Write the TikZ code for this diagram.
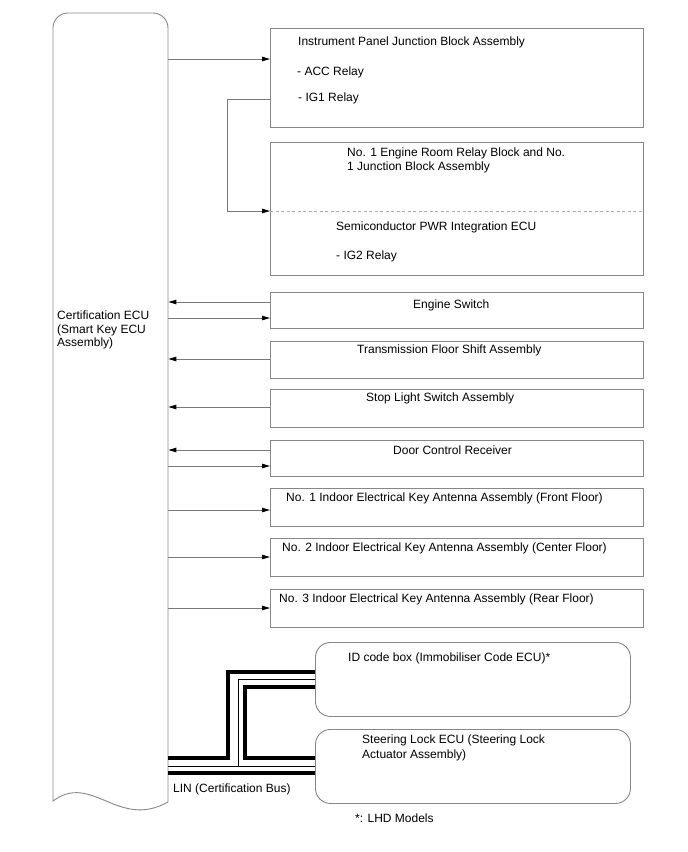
\documentclass[tikz,border=0pt]{standalone}
\usepackage{fontspec}
\setmainfont{Liberation Sans}
\usetikzlibrary{
  arrows.meta,  % Triangle arrow tips
  positioning   % relative placement
}
\definecolor{wiregray}{RGB}{120,120,120}
\definecolor{boxgray}{RGB}{135,135,135}
\tikzset{
  unit box/.style={
    draw=boxgray,
    line width=0.9pt,
    inner sep=0pt,
    anchor=north west
  },
  lin box/.style={
    unit box,
    rounded corners=15pt
  },
  lbl/.style={
    anchor=west,
    inner sep=0pt,
    align=left,
    font=\fontsize{12}{14}\selectfont
  },
  sig/.style={
    draw=wiregray,
    line width=0.9pt
  },
  to unit/.style={
    sig,
    -{Triangle[length=8pt,width=4.5pt,black]}
  },
  bus thick/.style={
    draw=black,
    line width=4pt
  },
  bus thin/.style={
    draw=black,
    line width=1pt
  }
}

\begin{document}
\begin{tikzpicture}[x=1pt, y=-1pt]
    \useasboundingbox (0,0) rectangle (688,852);

    % 1. Certification ECU (tall block, wavy bottom)
    \node[inner sep=0pt, minimum width=115pt, minimum height=789pt,
          anchor=north west] (ecu) at (53,13) {};
    \draw[sig, draw=boxgray] (53,801) -- (53,28)
      arc[start angle=180, end angle=90, radius=15pt] -- (153,13)
      arc[start angle=90, end angle=0, radius=15pt] -- (168,802)
      .. controls (118,830) and (92,772) .. (53,801) -- cycle;
    \node[lbl, font=\fontsize{12}{13.5}\selectfont] (ecu-t) at (57,330)
      {Certification ECU\\(Smart Key ECU\\Assembly)};

    % 2. units on the right
    \node[unit box, minimum width=373pt, minimum height=99pt]  (ipjb) at (270,28)  {};
    \node[unit box, minimum width=373pt, minimum height=133pt] (erb)  at (270,142) {};
    \node[unit box, minimum width=373pt, minimum height=36pt]  (esw)  at (270,292) {};
    \node[unit box, minimum width=373pt, minimum height=37pt]  (tfs)  at (270,341) {};
    \node[unit box, minimum width=373pt, minimum height=38pt]  (sls)  at (270,389) {};
    \node[unit box, minimum width=373pt, minimum height=36pt]  (dcr)  at (270,440) {};
    \node[unit box, minimum width=373pt, minimum height=38pt]  (ant1) at (270,488) {};
    \node[unit box, minimum width=373pt, minimum height=38pt]  (ant2) at (270,538) {};
    \node[unit box, minimum width=373pt, minimum height=38pt]  (ant3) at (270,589) {};
    \node[lin box,  minimum width=315pt, minimum height=74pt]  (idb)  at (315,642) {};
    \node[lin box,  minimum width=315pt, minimum height=74pt]  (slk)  at (315,729) {};

    % divider inside the relay block
    \draw[sig, draw=gray!65, dash pattern=on 3pt off 2.5pt] (erb.west |- 0,211) -- (erb.east |- 0,211);

    % 3. unit texts
    \node[lbl] (ipjb-t)  at (298,42)  {Instrument Panel Junction Block Assembly};
    \node[lbl] (ipjb-a)  at (297,72)  {- ACC Relay};
    \node[lbl] (ipjb-b)  at (298,98)  {- IG1 Relay};
    \node[lbl] (erb-t)   at (347,160) {No. 1 Engine Room Relay Block and No.\\1 Junction Block Assembly};
    \node[lbl] (spi-t)   at (336,227) {Semiconductor PWR Integration ECU};
    \node[lbl] (spi-a)   at (336,256) {- IG2 Relay};
    \node[lbl] (esw-t)   at (413,305) {Engine Switch};
    \node[lbl] (tfs-t)   at (357,350) {Transmission Floor Shift Assembly};
    \node[lbl] (sls-t)   at (366,398) {Stop Light Switch Assembly};
    \node[lbl] (dcr-t)   at (393,450) {Door Control Receiver};
    \node[lbl] (ant1-t)  at (286,498) {No. 1 Indoor Electrical Key Antenna Assembly (Front Floor)};
    \node[lbl] (ant2-t)  at (282,548) {No. 2 Indoor Electrical Key Antenna Assembly (Center Floor)};
    \node[lbl] (ant3-t)  at (279,599) {No. 3 Indoor Electrical Key Antenna Assembly (Rear Floor)};
    \node[lbl] (idb-t)   at (348,658) {ID code box (Immobiliser Code ECU)*};
    \node[lbl, font=\fontsize{12}{15}\selectfont] (slk-t) at (362,748)
      {Steering Lock ECU (Steering Lock\\Actuator Assembly)};
    \node[lbl] (lin-t)   at (173,789) {LIN (Certification Bus)};
    \node[lbl] (note-t)  at (355,818) {*: LHD Models};

    % 4. signal lines
    \draw[to unit] (ecu.east |- 0,59) -- (ipjb.west |- 0,59);
    \draw[to unit] (ipjb.west |- 0,99) -- (227,99) |- (erb.west |- 0,211);
    \draw[to unit] (esw.west |- 0,302) -- (ecu.east |- 0,302);
    \draw[to unit] (ecu.east |- 0,318) -- (esw.west |- 0,318);
    \draw[to unit] (tfs.west |- 0,359) -- (ecu.east |- 0,359);
    \draw[to unit] (sls.west |- 0,407) -- (ecu.east |- 0,407);
    \draw[to unit] (dcr.west |- 0,450) -- (ecu.east |- 0,450);
    \draw[to unit] (ecu.east |- 0,466) -- (dcr.west |- 0,466);
    \draw[to unit] (ecu.east |- 0,510) -- (ant1.west |- 0,510);
    \draw[to unit] (ecu.east |- 0,557) -- (ant2.west |- 0,557);
    \draw[to unit] (ecu.east |- 0,608) -- (ant3.west |- 0,608);

    % 5. LIN bus (thick / thin / thick)
    \draw[bus thick] (ecu.east |- 0,758) -- (228,758) |- (idb.west |- 0,672);
    \draw[bus thick] (idb.west |- 0,687) -| (245,758) -- (slk.west |- 0,758);
    \draw[bus thick] (ecu.east |- 0,773) -- (slk.west |- 0,773);
    \draw[bus thin]  (ecu.east |- 0,766) -- (slk.west |- 0,766);
    \draw[bus thin]  (238,766) |- (idb.west |- 0,679);

  \end{tikzpicture}
\end{document}
